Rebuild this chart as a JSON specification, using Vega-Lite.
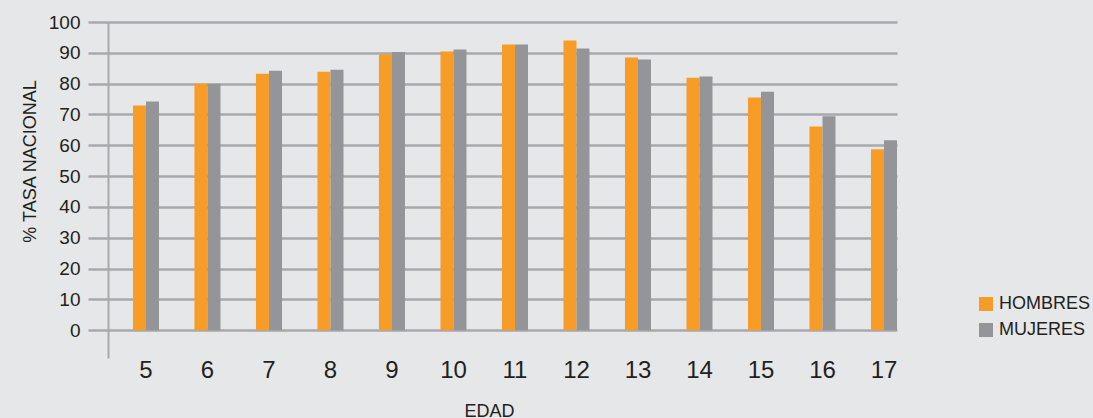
{
  "$schema": "https://vega.github.io/schema/vega-lite/v6.json",
  "autosize": "none",
  "padding": {"left": 108, "top": 22, "right": 196, "bottom": 60},
  "width": 789,
  "height": 336,
  "background": "#e6e7e8",
  "data": {
    "values": [
      {"edad": "5", "sexo": "HOMBRES", "tasa": 72.9},
      {"edad": "5", "sexo": "MUJERES", "tasa": 74.2},
      {"edad": "6", "sexo": "HOMBRES", "tasa": 80.0},
      {"edad": "6", "sexo": "MUJERES", "tasa": 80.0},
      {"edad": "7", "sexo": "HOMBRES", "tasa": 83.2},
      {"edad": "7", "sexo": "MUJERES", "tasa": 84.2},
      {"edad": "8", "sexo": "HOMBRES", "tasa": 83.9},
      {"edad": "8", "sexo": "MUJERES", "tasa": 84.5},
      {"edad": "9", "sexo": "HOMBRES", "tasa": 89.5},
      {"edad": "9", "sexo": "MUJERES", "tasa": 90.3},
      {"edad": "10", "sexo": "HOMBRES", "tasa": 90.4},
      {"edad": "10", "sexo": "MUJERES", "tasa": 91.1},
      {"edad": "11", "sexo": "HOMBRES", "tasa": 92.7},
      {"edad": "11", "sexo": "MUJERES", "tasa": 92.7},
      {"edad": "12", "sexo": "HOMBRES", "tasa": 94.0},
      {"edad": "12", "sexo": "MUJERES", "tasa": 91.4},
      {"edad": "13", "sexo": "HOMBRES", "tasa": 88.5},
      {"edad": "13", "sexo": "MUJERES", "tasa": 87.8},
      {"edad": "14", "sexo": "HOMBRES", "tasa": 81.9},
      {"edad": "14", "sexo": "MUJERES", "tasa": 82.3},
      {"edad": "15", "sexo": "HOMBRES", "tasa": 75.5},
      {"edad": "15", "sexo": "MUJERES", "tasa": 77.4},
      {"edad": "16", "sexo": "HOMBRES", "tasa": 66.1},
      {"edad": "16", "sexo": "MUJERES", "tasa": 69.4},
      {"edad": "17", "sexo": "HOMBRES", "tasa": 58.7},
      {"edad": "17", "sexo": "MUJERES", "tasa": 61.6}
    ]
  },
  "mark": {"type": "bar", "strokeWidth": 0},
  "encoding": {
    "x": {
      "field": "edad",
      "type": "ordinal",
      "sort": null,
      "scale": {"paddingInner": 0.577, "paddingOuter": 0.203, "align": 1},
      "axis": {
        "title": "EDAD",
        "labelAngle": 0,
        "domain": false,
        "ticks": false,
        "tickSize": 0,
        "grid": false,
        "labelFont": "Liberation Sans",
        "labelFontSize": 24,
        "labelColor": "#231f20",
        "labelBaseline": "alphabetic",
        "labelPadding": 19,
        "titleFont": "Liberation Sans",
        "titleFontSize": 18,
        "titleFontWeight": "normal",
        "titleColor": "#231f20",
        "titleX": 381,
        "titleY": 58,
        "titleAlign": "center",
        "titleBaseline": "alphabetic"
      }
    },
    "xOffset": {
      "field": "sexo",
      "type": "nominal",
      "sort": ["HOMBRES", "MUJERES"],
      "scale": {"paddingInner": 0, "paddingOuter": 0}
    },
    "y": {
      "field": "tasa",
      "type": "quantitative",
      "scale": {"domain": [-9, 100], "nice": false, "zero": false},
      "axis": {
        "title": "% TASA NACIONAL",
        "values": [0, 10, 20, 30, 40, 50, 60, 70, 80, 90, 100],
        "grid": true,
        "gridColor": "#a7a9ac",
        "gridWidth": 2.5,
        "gridOpacity": 1,
        "ticks": true,
        "tickSize": 20,
        "tickColor": "#a7a9ac",
        "tickWidth": 2.5,
        "domain": true,
        "domainColor": "#a7a9ac",
        "domainWidth": 2,
        "labelFont": "Liberation Sans",
        "labelFontSize": 19,
        "labelColor": "#231f20",
        "labelPadding": 8,
        "titleFont": "Liberation Sans",
        "titleFontSize": 18,
        "titleFontWeight": "normal",
        "titleColor": "#231f20",
        "titleAngle": -90,
        "titleX": -73,
        "titleY": 139,
        "titleAlign": "center",
        "titleBaseline": "alphabetic"
      }
    },
    "color": {
      "field": "sexo",
      "type": "nominal",
      "scale": {"domain": ["HOMBRES", "MUJERES"], "range": ["#f89c28", "#939598"]},
      "legend": {
        "title": null,
        "orient": "none",
        "legendX": 869,
        "legendY": 273,
        "padding": 0,
        "symbolType": "square",
        "symbolSize": 196,
        "symbolStrokeWidth": 0,
        "labelFont": "Liberation Sans",
        "labelFontSize": 18,
        "labelColor": "#231f20",
        "labelOffset": 4,
        "rowPadding": 8
      }
    }
  },
  "config": {
    "view": {"stroke": null},
    "axis": {"labelFlush": false}
  }
}
